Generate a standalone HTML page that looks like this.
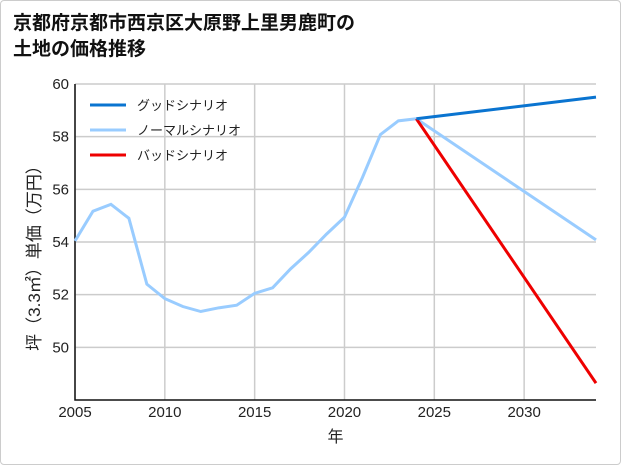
<!DOCTYPE html>
<html><head><meta charset="utf-8"><style>
body{margin:0;background:#fff;}
#wrap{position:relative;width:619px;height:463px;border:1px solid #ccc;border-radius:4px;overflow:hidden;font-family:"Liberation Sans","Noto Sans CJK JP",sans-serif;}
#title{position:absolute;left:12px;top:10px;font-size:19px;font-weight:bold;line-height:26px;color:#111;}
svg text{font-family:"Liberation Sans","Noto Sans CJK JP",sans-serif;}
</style></head><body>
<div id="wrap">
<div id="title">京都府京都市西京区大原野上里男鹿町の<br>土地の価格推移</div>
<svg id="c" width="621" height="465" style="position:absolute;left:-1px;top:-1px"></svg>
</div>
<script>
const years=[2005,2006,2007,2008,2009,2010,2011,2012,2013,2014,2015,2016,2017,2018,2019,2020,2021,2022,2023,2024];
const normalHist=[54.04,55.17,55.43,54.9,52.4,51.85,51.55,51.36,51.5,51.6,52.05,52.26,52.98,53.6,54.3,54.94,56.45,58.08,58.6,58.68];
const forecastYears=[2024,2034];
const goodVals=[58.68,59.5];
const normalVals=[58.68,54.08];
const badVals=[58.68,48.64];
const xTicks=[2005,2010,2015,2020,2025,2030];
const yTicks=[50,52,54,56,58,60];
const legendLabels=["グッドシナリオ","ノーマルシナリオ","バッドシナリオ"];
const legendColors=["#0a74d0","#99ccff","#ee0000"];
const NS="http://www.w3.org/2000/svg";
const svg=document.getElementById('c');
const X0=75,X1=596,Y0=84,Y1=400;
const xs=y=>X0+(y-2005)/(2034-2005)*(X1-X0);
const ys=v=>Y1-(v-48)/(60-48)*(Y1-Y0);
function mk(t,a){const e=document.createElementNS(NS,t);for(const k in a)e.setAttribute(k,a[k]);svg.appendChild(e);return e;}
xTicks.forEach(t=>{const l=mk('line',{x1:xs(t),x2:xs(t),y1:Y0,y2:Y1,stroke:'#ccc','stroke-width':1.5});


const tx=mk('text',{x:xs(t),y:Y1+17,'text-anchor':'middle','font-size':15,fill:'#222'});tx.textContent=t;

});
yTicks.forEach(t=>{const l=mk('line',{x1:X0,x2:X1,y1:ys(t),y2:ys(t),stroke:'#ccc','stroke-width':1.5});


const tx=mk('text',{x:X0-6,y:ys(t)+5,'text-anchor':'end','font-size':15,fill:'#222'});tx.textContent=t;

});
const ax=mk('path',{d:`M${X0} ${Y0}V${Y1}H${X1}`,fill:'none',stroke:'#111','stroke-width':1.5});


function line(xv,yv,c,name){const p=mk('polyline',{points:xv.map((x,i)=>xs(x)+','+ys(yv[i])).join(' '),fill:'none',stroke:c,'stroke-width':3});

}
line(years,normalHist,legendColors[1],'normal-history-line');
line(forecastYears,normalVals,legendColors[1],'normal-scenario-line');
line(forecastYears,badVals,legendColors[2],'bad-scenario-line');
line(forecastYears,goodVals,legendColors[0],'good-scenario-line');
legendLabels.forEach((s,i)=>{const y=105+i*25;
const l=mk('line',{x1:90,x2:126,y1:y,y2:y,stroke:legendColors[i],'stroke-width':3});


const t=mk('text',{x:137,y:y+5,'font-size':13,fill:'#222'});t.textContent=s;

});
const xt=mk('text',{x:(X0+X1)/2,y:442,'text-anchor':'middle','font-size':16,fill:'#222'});xt.textContent='年';


const yt=mk('text',{x:0,y:0,'text-anchor':'middle','font-size':17,fill:'#222',transform:`translate(40,${(Y0+Y1)/2+12}) rotate(-90)`});yt.textContent='坪（3.3㎡）単価（万円）';


</script>
</body></html>
